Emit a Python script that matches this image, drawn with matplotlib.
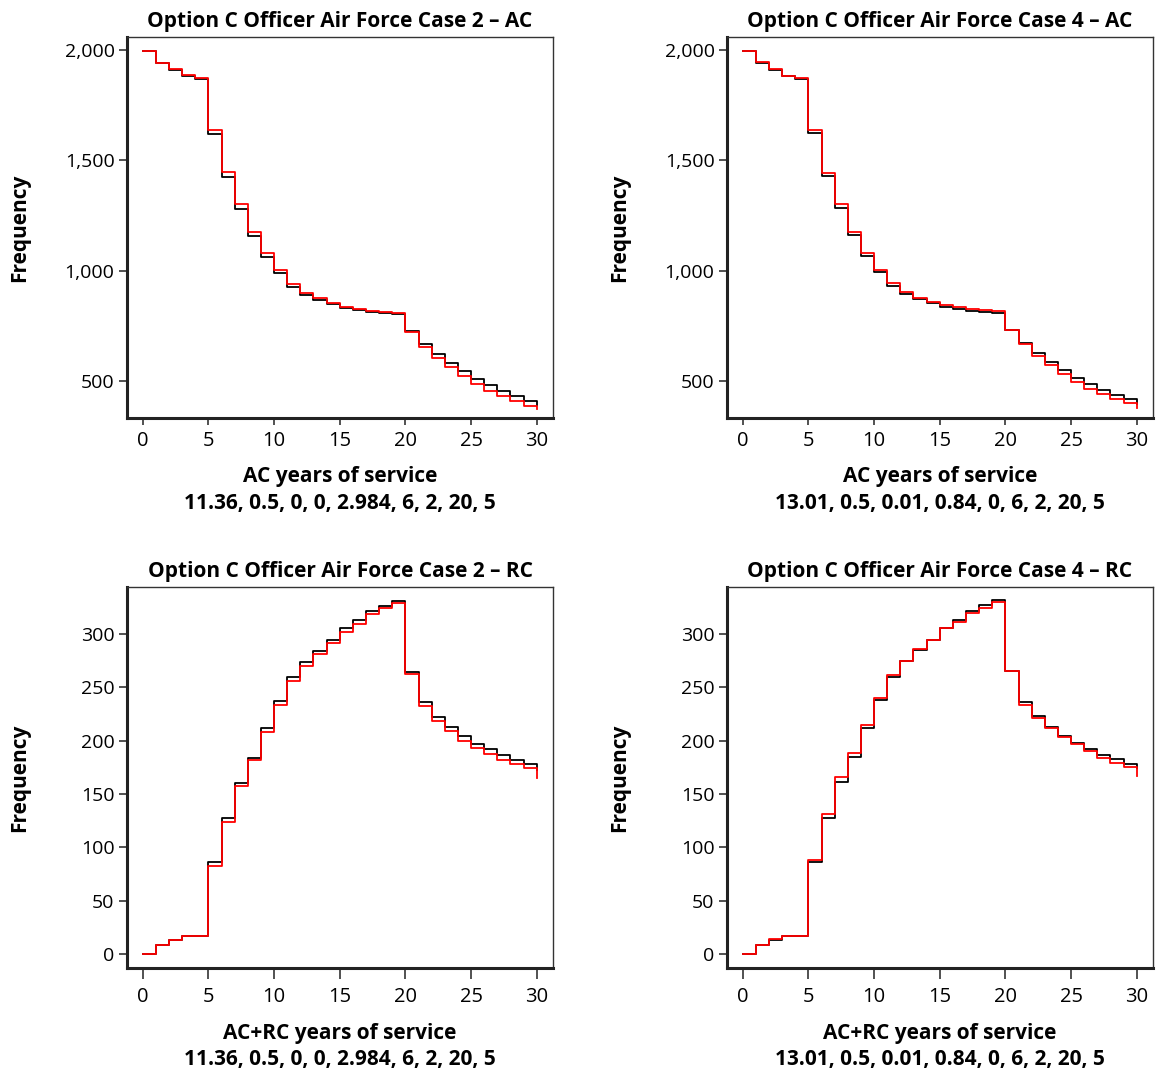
import numpy as np
import matplotlib
matplotlib.use("Agg")
import matplotlib.pyplot as plt
from matplotlib.ticker import FuncFormatter

plt.rcParams['font.family'] = ['Open Sans', 'DejaVu Sans']

# years of service 0..30 (stairstep, value held until next year)
years = np.arange(0, 31)

# Case 2 - AC
c2_ac_black = [1997, 1940, 1909, 1884, 1869, 1619, 1426, 1280, 1157, 1063, 988, 927, 890, 867, 849,
               832, 822, 814, 808, 804, 727, 668, 622, 583, 545, 509, 480, 456, 433, 411, 390]
c2_ac_red = [1997, 1943, 1912, 1887, 1872, 1639, 1447, 1302, 1177, 1082, 1005, 940, 900, 875, 855,
             837, 828, 819, 813, 807, 724, 656, 603, 562, 523, 486, 456, 432, 411, 388, 373]
# Case 4 - AC
c4_ac_black = [1997, 1943, 1909, 1884, 1869, 1622, 1429, 1286, 1162, 1066, 992, 930, 894, 870, 852,
               837, 828, 819, 813, 807, 730, 671, 626, 585, 548, 512, 485, 459, 437, 417, 396]
c4_ac_red = [1997, 1944, 1912, 1884, 1872, 1636, 1444, 1301, 1175, 1079, 1003, 943, 905, 878, 860,
             843, 834, 828, 822, 819, 731, 666, 611, 573, 531, 494, 462, 440, 417, 399, 379]
# Case 2 - RC
c2_rc_black = [0, 8.8, 13.4, 16.9, 16.9, 86.6, 127.8, 160.6, 184, 211.6, 237.2, 259.4, 274, 284.4, 294,
               305.3, 312.8, 321.3, 326.6, 331.3, 264.7, 236.6, 222.5, 213, 204, 196.9, 192.2, 186.9,
               182.2, 178, 172.5]
c2_rc_red = [0, 8.8, 13.4, 16.6, 16.6, 82.8, 124, 158, 181.6, 207.8, 233.8, 255.6, 269.7, 281.6, 291.3,
             302, 309.7, 318.4, 324.4, 329.4, 262.2, 232.5, 218.8, 209.4, 199.4, 192.8, 187.5, 181.6,
             178.4, 174.7, 164.7]
# Case 4 - RC
c4_rc_black = [0, 8.8, 13.4, 16.9, 16.9, 86.6, 127.8, 161, 184.4, 212, 237.8, 260, 274.7, 285.3, 294.4,
               305.3, 313, 321.6, 327, 331.6, 265.3, 236.6, 223, 213, 204.4, 197.5, 192.2, 186.9,
               182.5, 178.4, 174]
c4_rc_red = [0, 8.8, 13.8, 17.2, 17.2, 88, 131, 166, 188, 215, 240, 262, 274.7, 286, 294.7,
             305.3, 311, 319.4, 324.4, 329.7, 265.3, 233.4, 221, 212.2, 203.8, 196.6, 190, 183.8,
             178.8, 175.3, 166.9]

titles = ['Option C Officer Air Force Case 2 \u2013 AC', 'Option C Officer Air Force Case 4 \u2013 AC',
          'Option C Officer Air Force Case 2 \u2013 RC', 'Option C Officer Air Force Case 4 \u2013 RC']
xlabels = ['AC years of service\n11.36, 0.5, 0, 0, 2.984, 6, 2, 20, 5',
           'AC years of service\n13.01, 0.5, 0.01, 0.84, 0, 6, 2, 20, 5',
           'AC+RC years of service\n11.36, 0.5, 0, 0, 2.984, 6, 2, 20, 5',
           'AC+RC years of service\n13.01, 0.5, 0.01, 0.84, 0, 6, 2, 20, 5']
blacks = [c2_ac_black, c4_ac_black, c2_rc_black, c4_rc_black]
reds = [c2_ac_red, c4_ac_red, c2_rc_red, c4_rc_red]

fig = plt.figure(figsize=(11.59, 10.74), dpi=100)
W, H = 1159, 1074
boxes = [(127, 37), (727, 37), (127, 587), (727, 587)]

for i in range(4):
    x0, y0 = boxes[i]
    ax = fig.add_axes([x0 / W, 1 - (y0 + 381) / H, 426 / W, 381 / H])
    ax.step(years, blacks[i], where='post', color='black', lw=1.3)
    ax.step(years, reds[i], where='post', color='red', lw=1.3)
    ax.set_xlim(-1.2, 31.24)
    ax.set_xticks([0, 5, 10, 15, 20, 25, 30])
    if i < 2:
        ax.set_ylim(332, 2059)
        ax.set_yticks([500, 1000, 1500, 2000])
        ax.yaxis.set_major_formatter(FuncFormatter(lambda v, p: f'{int(v):,}'))
        xpad, xlen, xl_y = 4, 5, -0.127
    else:
        ax.set_ylim(-13, 344)
        ax.set_yticks([0, 50, 100, 150, 200, 250, 300])
        xpad, xlen, xl_y = 6, 8, -0.145
    for s in ['left', 'bottom']:
        ax.spines[s].set_linewidth(2.2)
        ax.spines[s].set_color('#222222')
    for s in ['top', 'right']:
        ax.spines[s].set_linewidth(1.0)
        ax.spines[s].set_color('#333333')
    ax.tick_params(axis='y', length=6, width=1.2, color='#333333', labelsize=14, pad=3)
    ax.tick_params(axis='x', length=xlen, width=1.2, color='#333333', labelsize=14.5, pad=xpad)
    ax.set_title(titles[i], fontsize=15, fontweight='bold', pad=7.5)
    ax.set_xlabel(xlabels[i], fontsize=15, fontweight='bold', linespacing=1.32)
    ax.xaxis.set_label_coords(0.5, xl_y)
    ax.set_ylabel('Frequency', fontsize=15, fontweight='bold')
    ax.yaxis.set_label_coords(-0.228, 0.5)

fig.savefig('out.png', dpi=100)
